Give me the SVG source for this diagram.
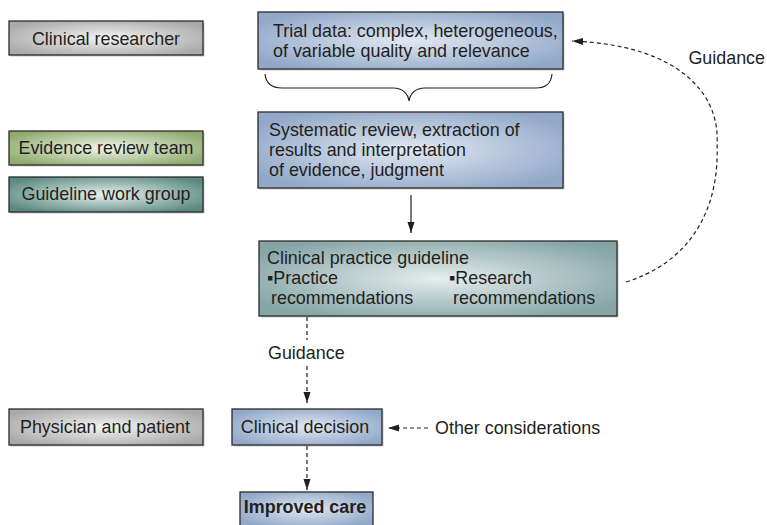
<svg xmlns="http://www.w3.org/2000/svg" width="767" height="525" viewBox="0 0 767 525">
<defs>
<radialGradient id="gGray" cx="0.5" cy="0.5" r="0.6"><stop offset="0" stop-color="#f4f4f4"/><stop offset="1" stop-color="#a9a9a9"/></radialGradient>
<radialGradient id="gBlue" cx="0.5" cy="0.5" r="0.6"><stop offset="0" stop-color="#e2e8f1"/><stop offset="1" stop-color="#91a8c9"/></radialGradient>
<radialGradient id="gGreen" cx="0.5" cy="0.5" r="0.6"><stop offset="0" stop-color="#f1f5ea"/><stop offset="1" stop-color="#8fab6e"/></radialGradient>
<radialGradient id="gTeal" cx="0.5" cy="0.5" r="0.6"><stop offset="0" stop-color="#eaf1ee"/><stop offset="1" stop-color="#5a8a80"/></radialGradient>
<radialGradient id="gCpg" cx="0.5" cy="0.5" r="0.6"><stop offset="0" stop-color="#e6eded"/><stop offset="1" stop-color="#85a5a7"/></radialGradient>
<marker id="ah" markerWidth="12" markerHeight="10" refX="11" refY="4" orient="auto" markerUnits="userSpaceOnUse"><path d="M0,0.5 L11,4 L0,7.5 Z" fill="#231f20"/></marker>
</defs>
<style>
.box{stroke:#2b2b2b;stroke-width:1.3}
.sh{fill:#c8c8c8}
text{font-family:"Liberation Sans",Arial,sans-serif;font-size:17.9px;fill:#231f20}
.c{text-anchor:middle}
.e{text-anchor:end}
.b{font-weight:bold}
.ln{fill:none;stroke:#231f20;stroke-width:1.2}
.ds{stroke-dasharray:4 3}
</style>
<g id="clinical-researcher"><rect class="sh" x="10.5" y="22.5" width="194" height="34"/><rect class="box" x="9" y="21" width="194" height="34" fill="url(#gGray)"/><text class="c" x="106" y="45">Clinical researcher</text></g>
<g id="evidence-review-team"><rect class="sh" x="10.5" y="132.5" width="194" height="34"/><rect class="box" x="9" y="131" width="194" height="34" fill="url(#gGreen)"/><text class="c" x="106" y="154">Evidence review team</text></g>
<g id="guideline-work-group"><rect class="sh" x="10.5" y="178.5" width="194" height="35"/><rect class="box" x="9" y="177" width="194" height="35" fill="url(#gTeal)"/><text class="c" x="106" y="200">Guideline work group</text></g>
<g id="physician-patient"><rect class="sh" x="10.5" y="410.5" width="194" height="36"/><rect class="box" x="9" y="409" width="194" height="36" fill="url(#gGray)"/><text class="c" x="105" y="433">Physician and patient</text></g>
<g id="trial-data"><rect class="sh" x="259.5" y="13.5" width="305" height="57"/><rect class="box" x="258" y="12" width="305" height="57" fill="url(#gBlue)"/><text x="273" y="37">Trial data: complex, heterogeneous,</text><text x="273" y="57">of variable quality and relevance</text></g>
<g id="systematic-review"><rect class="sh" x="259.5" y="113.5" width="305" height="76"/><rect class="box" x="258" y="112" width="305" height="76" fill="url(#gBlue)"/><text x="269" y="136">Systematic review, extraction of</text><text x="269" y="156">results and interpretation</text><text x="269" y="176">of evidence, judgment</text></g>
<g id="cpg"><rect class="sh" x="260.5" y="242.5" width="358" height="75"/><rect class="box" x="259" y="241" width="358" height="75" fill="url(#gCpg)"/><text x="267" y="264">Clinical practice guideline</text><text x="267" y="284">▪Practice</text><text x="271" y="304">recommendations</text><text x="449" y="284">▪Research</text><text x="453" y="304">recommendations</text></g>
<g id="clinical-decision"><rect class="sh" x="233.5" y="410.5" width="150" height="36"/><rect class="box" x="232" y="409" width="150" height="36" fill="url(#gBlue)"/><text class="c" x="305" y="433">Clinical decision</text></g>
<g id="improved-care"><rect class="box" x="240" y="492" width="133" height="34" fill="url(#gBlue)"/><text class="c b" x="305" y="513">Improved care</text></g>
<g id="connectors">
<path class="ln" d="M265,74 C266,84 272,88 282,88 L393,88 C403,88 408,94 409,101 C410,94 415,88 425,88 L536,88 C546,88 551,84 552,74"/>
<line class="ln" x1="411" y1="195" x2="411" y2="233" marker-end="url(#ah)"/>
<path class="ln ds" d="M626,282 C690,262 720,210 717,143 C720,95 680,45 572,41" marker-end="url(#ah)"/>
<text class="e" x="765" y="64">Guidance</text>
<line class="ln ds" x1="307" y1="317" x2="307" y2="340"/>
<text x="268" y="359">Guidance</text>
<line class="ln ds" x1="307" y1="366" x2="307" y2="403" marker-end="url(#ah)"/>
<line class="ln ds" x1="307" y1="446" x2="307" y2="490" marker-end="url(#ah)"/>
<line class="ln ds" x1="428" y1="428" x2="388" y2="428" marker-end="url(#ah)"/>
<text x="435" y="434">Other considerations</text>
</g>
</svg>
